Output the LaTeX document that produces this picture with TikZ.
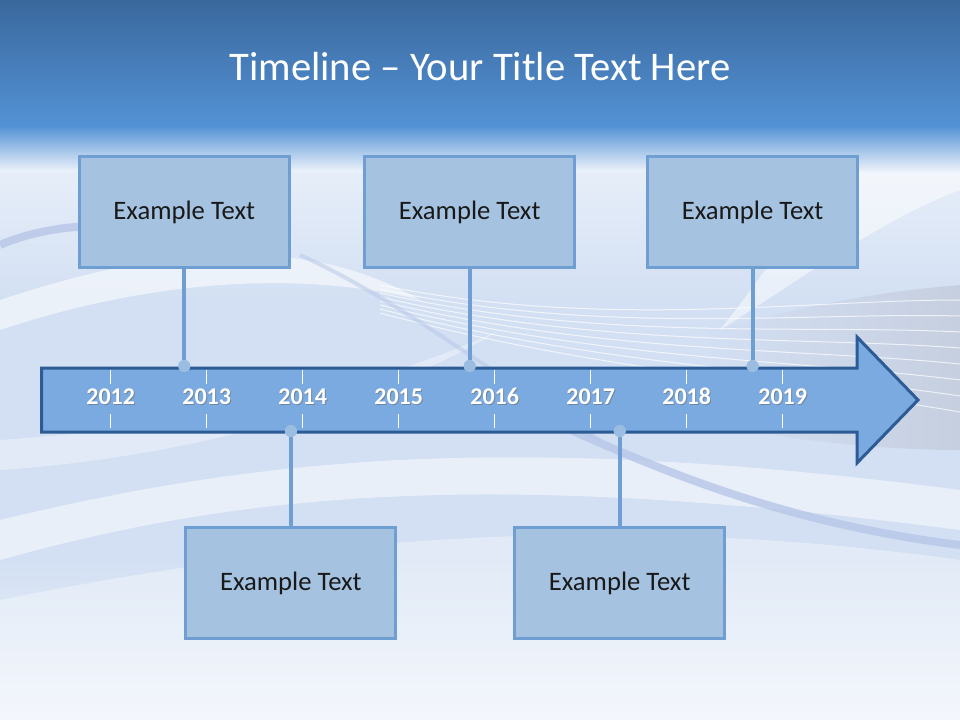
\documentclass[tikz,border=0pt]{standalone}
\usepackage{fontspec}
\setmainfont{Carlito}
\usetikzlibrary{positioning}

\definecolor{bandtop}{HTML}{3A689D}
\definecolor{bandbot}{HTML}{5392D5}
\definecolor{bgtop}{HTML}{EEF3FB}
\definecolor{bgmid}{HTML}{D3E0F3}
\definecolor{bgbot}{HTML}{EEF3FB}
\definecolor{swoosh}{HTML}{B7C6E8}
\definecolor{greyband}{HTML}{C6CFE0}
\definecolor{arrowfill}{HTML}{7AAAE0}
\definecolor{arrowline}{HTML}{2C5B95}
\definecolor{boxfill}{HTML}{A5C3E1}
\definecolor{boxline}{HTML}{6E9ED2}
\definecolor{dotfill}{HTML}{9CBDE2}

\begin{document}
\begin{tikzpicture}[x=0.75pt,y=-0.75pt]
    \tikzstyle{event}=[rectangle,draw=boxline,fill=boxfill,line width=2.25pt,
      minimum width=157.5pt,minimum height=83.25pt,inner sep=0pt,
      font=\fontsize{20}{24}\selectfont,text=black!90]
    \tikzstyle{pinhead}=[circle,fill=dotfill,minimum size=9pt,inner sep=0pt]
    \tikzstyle{link}=[draw=boxline,line width=3pt]
    \tikzstyle{year}=[anchor=base,font=\bfseries\fontsize{18}{20}\selectfont,text=white]
    \tikzstyle{tick}=[draw=white,line width=0.75pt]

    % background and title band
    \useasboundingbox (0,0) rectangle (960,720);
    \fill[bgmid] (0,120) rectangle (960,720);
    \shade[top color=bgtop,bottom color=bgmid] (0,120) rectangle (960,300);
    \shade[top color=bgmid,bottom color=bgbot] (0,560) rectangle (960,720);
    \shade[left color=bgmid,right color=greyband] (700,335) .. controls (820,300) and (900,290) .. (960,285)
      -- (960,450) .. controls (880,450) and (780,440) .. (700,420) -- cycle;
    \foreach \k in {0,...,7}
    \draw[white,opacity=0.7,line width=0.75pt] (380,285+4*\k) .. controls (600,330+6*\k) and (800,300+12*\k) .. (960,300+16*\k);
    \fill[white,opacity=0.55] (0,300) .. controls (150,250) and (300,230) .. (420,300)
      .. controls (300,270) and (150,280) .. (0,330) -- cycle;
    \fill[white,opacity=0.5] (0,520) .. controls (250,460) and (500,430) .. (960,490)
      -- (960,530) .. controls (500,470) and (250,490) .. (0,560) -- cycle;
    \fill[white,opacity=0.35] (0,600) .. controls (300,540) and (600,510) .. (960,560)
      -- (960,720) -- (0,720) -- cycle;
    \fill[white,opacity=0.5] (860,140) .. controls (800,220) and (760,280) .. (720,330)
      .. controls (800,280) and (880,220) .. (960,190) -- (960,140) -- cycle;
    \fill[white,opacity=0.35] (0,440) .. controls (150,430) and (350,400) .. (500,330)
      .. controls (350,420) and (150,460) .. (0,470) -- cycle;
    \draw[swoosh,line width=6pt,opacity=0.8] (0,245) .. controls (30,232) and (70,224) .. (120,226);
    \draw[swoosh,line width=6pt,opacity=0.8] (560,425) .. controls (680,480) and (800,525) .. (960,545);
    \draw[swoosh,line width=3pt,opacity=0.5] (300,255) .. controls (400,300) and (500,380) .. (600,440);
    \shade[top color=bandtop,bottom color=bandbot] (0,0) rectangle (960,126);
    \shade[top color=bandbot,bottom color=bgtop] (0,126) rectangle (960,172);
    \node[text=white,font=\fontsize{30.5}{36}\selectfont] (title) at (480,67) {Timeline -- Your Title Text Here};

    % timeline arrow
    \draw[arrowline,fill=arrowfill,line width=2.25pt,line join=miter]
      (41.5,368) -- (857,368) -- (857,337) -- (918,400) -- (857,463) -- (857,432) -- (41.5,432) -- cycle;

    % year marks
    \foreach \i/\yr in {0/2012,1/2013,2/2014,3/2015,4/2016,5/2017,6/2018,7/2019}
    {
      \draw[tick] (110.7+96*\i,370) -- (110.7+96*\i,384);
      \draw[tick] (110.7+96*\i,414) -- (110.7+96*\i,428);
      \node[year,text=black!60,opacity=0.5] at (111.7+96*\i,405) {\yr};
      \node[year] (Y-\yr) at (110.7+96*\i,404) {\yr};
    }

    % events above the arrow
    \foreach \n/\x in {1/184.3,2/469.7,3/752.6}
    {
      \node[event] (E-\n) at (\x,212) {Example Text};
      \node[pinhead] (P-\n) at (\x,366) {};
    }

    % events below the arrow
    \foreach \n/\x in {4/290.9,5/619.7}
    {
      \node[event] (E-\n) at (\x,583) {Example Text};
      \node[pinhead] (P-\n) at (\x,431) {};
    }

    % connect every event with its mark on the arrow
    \foreach \n in {1,...,5}
    \path[link] (E-\n) edge (P-\n);
    \foreach \n in {1,...,5}
    \node[pinhead] at (P-\n) {};
\end{tikzpicture}
\end{document}
